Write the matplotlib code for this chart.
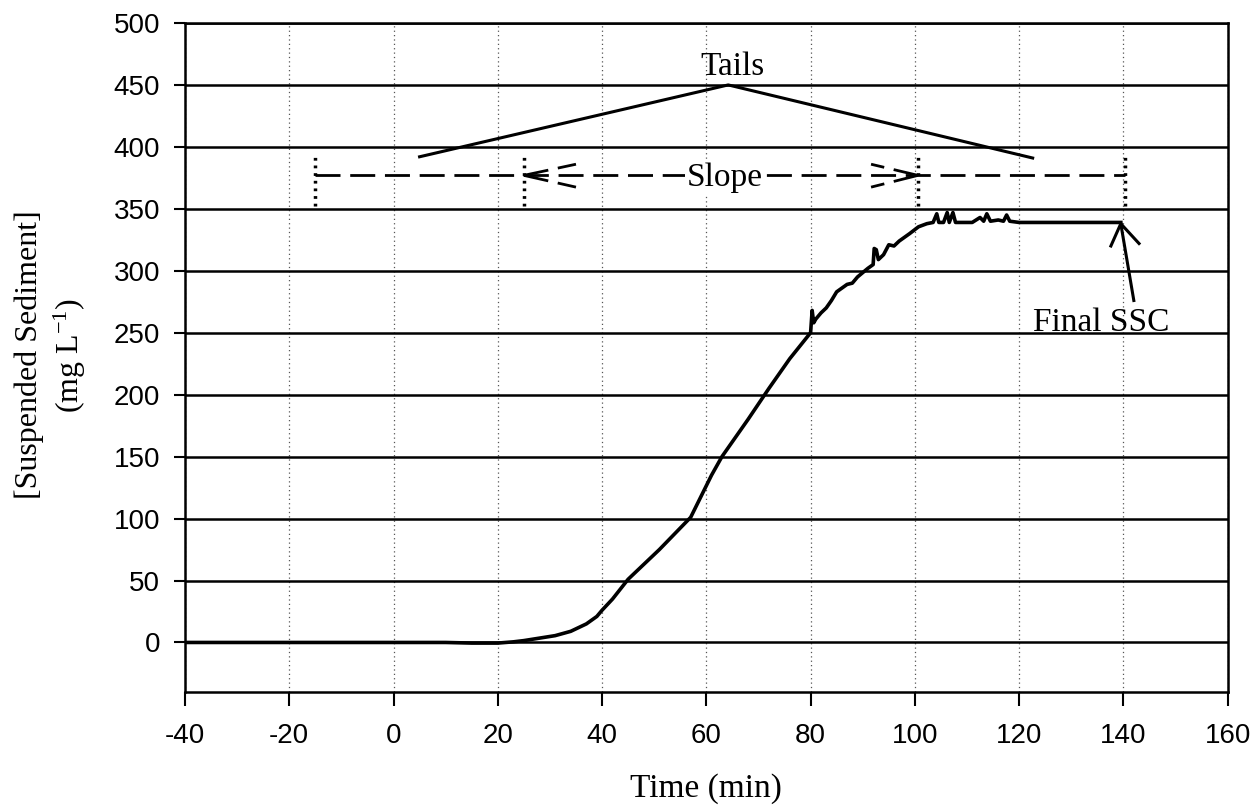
import matplotlib.pyplot as plt

plt.rcParams['mathtext.fontset'] = 'custom'
plt.rcParams['mathtext.rm'] = 'Liberation Serif'
plt.rcParams['mathtext.it'] = 'Liberation Serif:italic'
plt.rcParams['axes.unicode_minus'] = False

SERIF = 'Liberation Serif'
SANS = 'Liberation Sans'

# SSC record
time_min = [-40, -20, 0, 10, 15, 20, 23, 25, 28, 31, 34, 37, 39, 40, 42, 45, 48,
            51, 54, 57, 59, 61, 63, 65, 68, 72, 76, 80, 80.3, 80.6, 81, 82, 83,
            84, 85, 86, 87, 88, 89, 91, 92, 92.2, 92.6, 93, 94, 95, 96, 97, 99,
            100.7, 102.3, 103.5, 104.2, 104.6, 105.5, 106.2, 106.6, 107.3, 107.8,
            109, 111, 112.5, 113.2, 113.8, 114.5, 116, 117, 117.6, 118.2, 120,
            125, 130, 135, 139.5]
ssc = [0, 0, 0, 0, -0.5, -0.5, 0.5, 1.5, 3.5, 5.5, 9, 15, 21, 26, 35, 51, 63,
       75, 88, 101, 118, 135, 150, 162, 180, 205, 229, 250, 268, 258, 261, 266, 270,
       276, 283, 286, 289, 290, 295, 302, 305, 318, 317, 309, 313, 321, 320, 324, 330,
       335.5, 338, 339, 346, 339, 339, 347, 339, 347, 339,
       339, 339, 343, 340, 346, 340, 341, 340, 345, 340, 339,
       339, 339, 339, 339]

# annotation geometry (data units)
tails_x = [5, 64.2, 122.6]
tails_y = [392, 450, 391]
slope_y = 377
slope_marks = [-15, 25, 100.6, 140.4]
final_tip = (139.5, 338)
final_tail = (142, 276)

fig = plt.figure(figsize=(12.54, 8.09), dpi=100)
ax = fig.add_axes([0.1475, 0.1446, 0.8315, 0.827])

ax.plot(time_min, ssc, color='black', lw=2.6, zorder=3)

# Tails
ax.plot(tails_x, tails_y, color='black', lw=2.2, zorder=3)
ax.text(65, 458, 'Tails', fontname=SERIF, fontsize=24, ha='center', va='baseline')

# Slope
dash = (0, (9, 3.5))
ax.plot([-15, 140.4], [slope_y, slope_y], color='black', lw=2, ls=dash, zorder=3)
for xm in slope_marks:
    ax.plot([xm, xm], [352, 395], color='black', lw=2.5, ls=(0, (0.8, 1.4)), zorder=3)
for dy in (9, -9.5):
    ax.plot([25, 35], [slope_y, slope_y + dy], color='black', lw=2, ls=dash, zorder=3)
    ax.plot([100.6, 91.6], [slope_y, slope_y + dy], color='black', lw=2, ls=dash, zorder=3)
ax.text(63.5, 368.5, 'Slope', fontname=SERIF, fontsize=24, ha='center', va='baseline',
        bbox=dict(facecolor='white', edgecolor='none', pad=1), zorder=4)

# Final SSC arrow
ax.plot([final_tail[0], final_tip[0]], [final_tail[1], final_tip[1]], color='black', lw=2.2, zorder=3)
ax.plot([137.6, final_tip[0], 143], [320, final_tip[1], 322], color='black', lw=2.2, zorder=3)
ax.text(135.8, 251, 'Final SSC', fontname=SERIF, fontsize=24, ha='center', va='baseline')

ax.set_xlim(-40, 160)
ax.set_ylim(-40, 500)
ax.set_xticks(range(-40, 161, 20))
ax.set_yticks(range(0, 501, 50))

ax.yaxis.grid(True, color='black', lw=1.8, ls='-')
ax.xaxis.grid(True, color='#555555', lw=0.9, ls=(0, (1, 2.5)))
ax.set_axisbelow(True)

for s in ax.spines.values():
    s.set_color('black')
    s.set_linewidth(1.8)

ax.tick_params(axis='y', direction='out', length=8, width=1.5, pad=10, labelsize=20)
ax.tick_params(axis='x', direction='out', length=10, width=1.5, pad=12, labelsize=20)
for lab in ax.get_xticklabels() + ax.get_yticklabels():
    lab.set_fontname(SANS)

ax.set_xlabel('Time (min)', fontname=SERIF, fontsize=24)
ax.xaxis.set_label_coords(0.5, -0.122)
fig.text(51 / 1254, 1 - 355 / 809, '[Suspended Sediment]\n(mg L$^{-1}$)', fontname=SERIF,
         fontsize=23, rotation=90, ha='center', va='center', multialignment='center',
         linespacing=1.3)

fig.savefig('out.png', dpi=100)
